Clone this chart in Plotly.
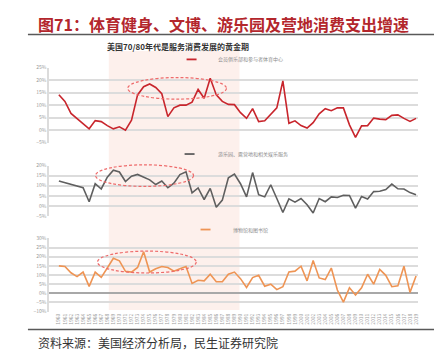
import plotly.graph_objects as go

W, H = 441, 361
FONT = "Noto Sans CJK SC"

years = list(range(1960, 2020))

clubs_sports = [14.2, 11.5, 6.7, 4.7, 2.5, 0.5, 3.8, 3.4, 1.8, 0.5,
                1.3, 0.0, 4.0, 14.1, 17.4, 18.5, 17.1, 14.6, 5.4, 8.9,
                10.0, 10.0, 11.2, 16.3, 12.8, 20.8, 14.1, 11.5, 10.3, 10.2,
                7.0, 4.7, 8.6, 3.4, 3.7, 6.3, 8.9, 19.7, 2.7, 3.7,
                1.8, 0.8, 3.0, 6.5, 8.6, 7.8, 8.9, 8.9, 2.1, -2.9,
                1.7, 1.8, 4.8, 4.4, 4.2, 5.9, 6.1, 4.7, 3.5, 4.7]

amusement_camps = [12.3, 11.5, 10.8, 10.0, 9.0, 2.1, 11.0, 8.4, 14.2, 17.7,
                   16.8, 12.1, 14.7, 15.6, 14.2, 12.9, 10.6, 12.3, 9.0, 11.3,
                   15.5, 16.9, 6.5, 8.9, 3.2, 8.7, -0.6, 2.9, 13.9, 15.8,
                   11.0, 4.5, 16.5, 5.6, 4.5, 10.5, 3.7, -3.2, 3.5, 1.9,
                   3.7, 0.6, -3.5, 3.7, 2.1, 4.5, 4.2, 5.3, 5.2, -1.1,
                   4.7, 3.4, 7.1, 7.3, 8.1, 10.8, 8.5, 8.4, 6.6, 5.6]

museums_libraries = [15.0, 14.6, 11.2, 9.1, 11.6, 3.8, 11.6, 8.7, 13.8, 19.1,
                     17.7, 12.0, 11.6, 14.1, 22.7, 11.6, 13.4, 14.6, 14.1, 12.1,
                     13.4, 14.6, 5.4, 7.1, 6.8, 10.4, 6.3, 6.3, 10.4, 11.6,
                     8.0, 3.2, 8.6, 9.8, 3.9, 5.0, 2.0, 3.6, 11.6, 12.1,
                     14.8, 6.8, 17.9, 8.4, 7.5, 13.8, 1.8, -4.8, 3.0, -0.9,
                     3.0, 10.4, 5.0, 13.0, 9.8, 3.6, 4.1, 14.8, 0.5, 9.5]

series_names = ["会员俱乐部和参与者体育中心", "游乐园、露营地和相关娱乐服务", "博物馆和图书馆"]
colors = ["#C8252C", "#5F5F5F", "#EE9454"]

title_text = "图71：体育健身、文博、游乐园及营地消费支出增速"
subtitle_text = "美国70/80年代是服务消费发展的黄金期"
source_text = "资料来源：美国经济分析局，民生证券研究院"


def px(x):
    return x / W


def py(y):
    return 1 - y / H


x_range = [1958.4, 2019.33]
x_dom = [px(49.3), px(419)]

fig = go.Figure()
fig.add_trace(go.Scatter(x=years, y=clubs_sports, mode="lines", xaxis="x", yaxis="y",
                         line=dict(color=colors[0], width=1.6), name=series_names[0]))
fig.add_trace(go.Scatter(x=years, y=amusement_camps, mode="lines", xaxis="x2", yaxis="y2",
                         line=dict(color=colors[1], width=1.6), name=series_names[1]))
fig.add_trace(go.Scatter(x=years, y=museums_libraries, mode="lines", xaxis="x3", yaxis="y3",
                         line=dict(color=colors[2], width=1.6), name=series_names[2]))

grid = "#dcdcdc"
tickf = dict(family=FONT, size=5, color="#9a9a9a")


def yax(dom, rng, dt, anchor, zl=False):
    return dict(domain=dom, range=rng, tick0=rng[0], dtick=dt, ticksuffix="%",
                showgrid=True, gridcolor=grid, gridwidth=1.5,
                zeroline=zl, zerolinecolor="#a8a8a8", zerolinewidth=1.5,
                showline=True, linecolor=grid, linewidth=1.5,
                ticks="", tickfont=tickf, anchor=anchor, fixedrange=True)


def xax(anchor, labels=False):
    d = dict(domain=x_dom, range=x_range, showgrid=False, zeroline=False,
             showline=False, anchor=anchor, fixedrange=True)
    if labels:
        d.update(showticklabels=True, tickmode="array", tickvals=years,
                 ticktext=[str(v) for v in years], tickangle=-90, ticks="",
                 tickfont=dict(family=FONT, size=5, color="#a0a0a0"))
    else:
        d.update(showticklabels=False)
    return d


shapes = []
# shaded golden period
shapes.append(dict(type="rect", xref="x3", yref="paper", x0=1968.24, x1=1989.83,
                   y0=py(312), y1=py(48), fillcolor="#FDF0EC", line=dict(width=0),
                   layer="below"))
# title and source rules
shapes.append(dict(type="line", xref="paper", yref="paper", x0=px(28), x1=px(435),
                   y0=py(31), y1=py(31), line=dict(color="#595959", width=1.5)))
shapes.append(dict(type="line", xref="paper", yref="paper", x0=px(28), x1=px(435),
                   y0=py(332), y1=py(332), line=dict(color="#595959", width=1.5)))
# dashed ellipses
for (x0, x1, y0, y1) in [(128, 227, 75, 97), (95.7, 194, 164, 186), (97.7, 196.7, 252, 274.3)]:
    shapes.append(dict(type="circle", xref="paper", yref="paper", x0=px(x0), x1=px(x1),
                       y0=py(y1), y1=py(y0),
                       line=dict(color="#EE6B6B", width=1.2, dash="3px,2px")))
# legend samples
legend_pos = [(187, 197, 56.5, 216), (185, 195, 153, 216), (201, 211, 230, 232)]
annotations = []
for i, (lx0, lx1, ly, tx) in enumerate(legend_pos):
    shapes.append(dict(type="line", xref="paper", yref="paper", x0=px(lx0), x1=px(lx1),
                       y0=py(ly), y1=py(ly), line=dict(color=colors[i], width=1.8)))
    annotations.append(dict(xref="paper", yref="paper", x=px(tx), y=py(ly), text=series_names[i],
                            showarrow=False, xanchor="left", yanchor="middle",
                            font=dict(family=FONT, size=5, color="#8c8c8c")))

annotations.append(dict(xref="paper", yref="paper", x=px(36), y=py(20), text="<b>" + title_text + "</b>",
                        showarrow=False, xanchor="left", yanchor="middle",
                        font=dict(family=FONT, size=16, color="#B3262C")))
annotations.append(dict(xref="paper", yref="paper", x=px(105), y=py(43), text="<b>" + subtitle_text + "</b>",
                        showarrow=False, xanchor="left", yanchor="middle",
                        font=dict(family=FONT, size=8, color="#333333")))
annotations.append(dict(xref="paper", yref="paper", x=px(36), y=py(345), text=source_text,
                        showarrow=False, xanchor="left", yanchor="middle",
                        font=dict(family=FONT, size=12, color="#333333")))

fig.update_layout(
    width=W, height=H, margin=dict(l=0, r=0, t=0, b=0),
    paper_bgcolor="white", plot_bgcolor="rgba(0,0,0,0)",
    showlegend=False,
    xaxis=xax("y"), xaxis2=xax("y2"), xaxis3=xax("y3", labels=True),
    yaxis=yax([py(141.3), py(65)], [-5, 25], 5, "x"),
    yaxis2=yax([py(216.3), py(164.7)], [-5, 20], 5, "x2"),
    yaxis3=yax([py(313.7), py(239)], [-10, 30], 5, "x3", zl=True),
    shapes=shapes, annotations=annotations,
)

fig.write_html("out.html", config={"displayModeBar": False},
               post_script="document.body.style.margin='0';document.body.style.overflow='hidden';")
